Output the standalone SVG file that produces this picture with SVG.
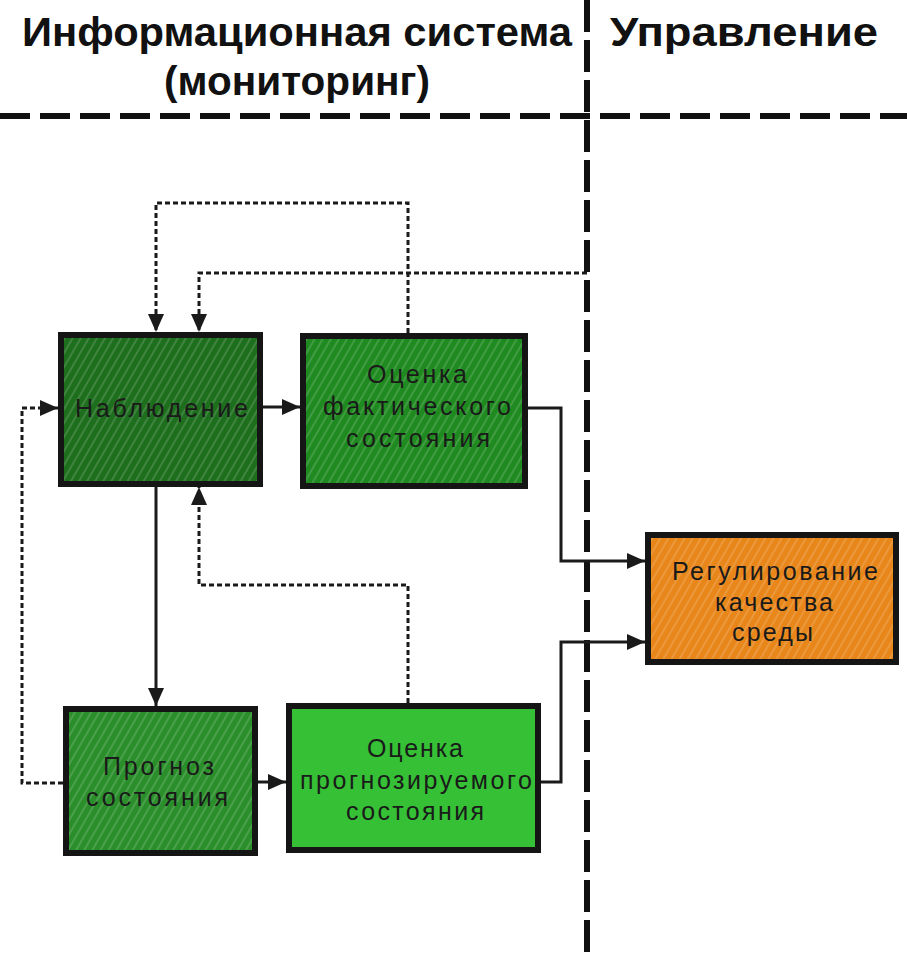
<svg xmlns="http://www.w3.org/2000/svg" width="907" height="960" viewBox="0 0 907 960">
<style>
.hdr{font-family:"Liberation Sans",Arial,sans-serif;font-weight:bold;font-size:41px;fill:#111}
.lbl{font-family:"Liberation Sans",Arial,sans-serif;font-size:25px;fill:#1a1a1a;text-anchor:start}
.box{stroke:#151515;stroke-width:6}
.sep{fill:none;stroke:#111;stroke-width:6}
.solid{fill:none;stroke:#1a1a1a;stroke-width:3}
.dot{fill:none;stroke:#1a1a1a;stroke-width:3;stroke-dasharray:5 3}
</style>
<defs>
<pattern id="hatch" width="7" height="7" patternUnits="userSpaceOnUse" patternTransform="rotate(30)">
<line x1="1" y1="0" x2="1" y2="7" stroke="#ffffff" stroke-opacity="0.25" stroke-width="1.2"/>
</pattern>
<marker id="arr" viewBox="0 0 18 16" refX="18" refY="8" markerWidth="18" markerHeight="16" markerUnits="userSpaceOnUse" orient="auto">
<path d="M0,0 L18,8 L0,16 z" fill="#1a1a1a"/>
</marker>
</defs>
<rect width="907" height="960" fill="#ffffff"/>
<g id="header">
<text class="hdr" x="22" y="46" textLength="550" lengthAdjust="spacingAndGlyphs">Информационная система</text>
<text class="hdr" x="164" y="95" textLength="266" lengthAdjust="spacingAndGlyphs">(мониторинг)</text>
<text class="hdr" x="610" y="46" textLength="268" lengthAdjust="spacingAndGlyphs">Управление</text>
<line class="sep" x1="0" y1="116" x2="907" y2="116" stroke-dasharray="30 10"/>
<line class="sep" x1="587" y1="0" x2="587" y2="960" stroke-width="7" stroke-dasharray="32 8"/>
</g>
<g id="connectors">
<line class="solid" x1="263" y1="407" x2="300" y2="407" marker-end="url(#arr)"/>
<line class="solid" x1="156" y1="487" x2="156" y2="706" marker-end="url(#arr)"/>
<line class="solid" x1="258" y1="782" x2="286" y2="782" marker-end="url(#arr)"/>
<polyline class="solid" points="528,408 561,408 561,561 645,561" marker-end="url(#arr)"/>
<polyline class="solid" points="541,782 561,782 561,642 645,642" marker-end="url(#arr)"/>
<polyline class="dot" points="408,333 408,203 156,203 156,332" marker-end="url(#arr)"/>
<polyline class="dot" points="587,273 199,273 199,332" marker-end="url(#arr)"/>
<polyline class="dot" points="408,703 408,585 199,585 199,487" marker-end="url(#arr)"/>
<polyline class="dot" points="63,783 22,783 22,408 58,408" marker-end="url(#arr)"/>
</g>
<g id="node-nabl">
<rect class="box" x="61" y="335" width="199" height="149" fill="#1d6e1d"/>
<rect x="64" y="338" width="193" height="143" fill="url(#hatch)"/>
<text class="lbl" x="75" y="417" textLength="173" lengthAdjust="spacing">Наблюдение</text>
</g>
<g id="node-ocenka-fakt">
<rect class="box" x="303" y="336" width="222" height="150" fill="#1f8a1f"/>
<rect x="306" y="339" width="216" height="144" fill="url(#hatch)"/>
<text class="lbl" x="367" y="383" textLength="100" lengthAdjust="spacing">Оценка</text>
<text class="lbl" x="323" y="415" textLength="188" lengthAdjust="spacing">фактического</text>
<text class="lbl" x="346" y="447" textLength="144" lengthAdjust="spacing">состояния</text>
</g>
<g id="node-prognoz">
<rect class="box" x="66" y="709" width="189" height="144" fill="#2a8f2a"/>
<rect x="69" y="712" width="183" height="138" fill="url(#hatch)"/>
<text class="lbl" x="103" y="775" textLength="111" lengthAdjust="spacing">Прогноз</text>
<text class="lbl" x="86" y="806" textLength="142" lengthAdjust="spacing">состояния</text>
</g>
<g id="node-ocenka-prog">
<rect class="box" x="289" y="706" width="249" height="144" fill="#35c035"/>
<text class="lbl" x="367" y="757" textLength="96" lengthAdjust="spacing">Оценка</text>
<text class="lbl" x="300" y="789" textLength="232" lengthAdjust="spacing">прогнозируемого</text>
<text class="lbl" x="346" y="820" textLength="138" lengthAdjust="spacing">состояния</text>
</g>
<g id="node-regul">
<rect class="box" x="648" y="535" width="248" height="127" fill="#e8861a"/>
<rect x="651" y="538" width="242" height="121" fill="url(#hatch)"/>
<text class="lbl" x="672" y="580" textLength="206" lengthAdjust="spacing">Регулирование</text>
<text class="lbl" x="715" y="611" textLength="118" lengthAdjust="spacing">качества</text>
<text class="lbl" x="732" y="641" textLength="81" lengthAdjust="spacing">среды</text>
</g>
</svg>
